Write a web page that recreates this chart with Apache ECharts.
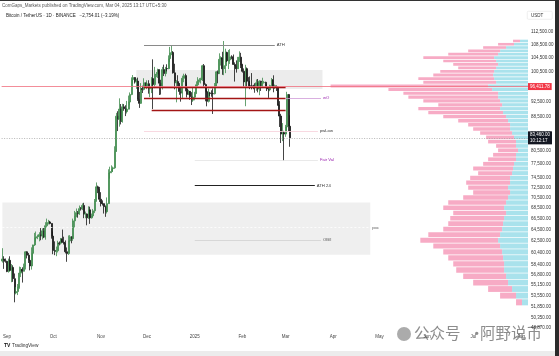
<!DOCTYPE html>
<html><head><meta charset="utf-8">
<script src="https://cdn.jsdelivr.net/npm/echarts@6/dist/echarts.min.js"></script>
<style>html,body{margin:0;padding:0;background:#fff;}#c{width:559px;height:356px;}</style>
</head><body><div id="c"></div>
<script>
// ---------- DATA ----------
const firstDay = '2024-08-29';
const lastDay = '2025-08-05';
const monthNames = {'01':'2025','02':'Feb','03':'Mar','04':'Apr','05':'May','06':'Jun','07':'Jul','08':'Aug','09':'Sep','10':'Oct','11':'Nov','12':'Dec'};
const priceTicks = [112500,108500,104500,100500,92500,88500,84500,80500,77500,74500,72500,70500,68500,66500,64500,62500,60400,58400,56800,55150,53550,51850,50350,48870];
// daily candles from 2024-08-29: [open, high, low, close]
const btcDaily = [
[59015,61190,58760,59360],[59360,59820,57730,59120],[59120,59440,58740,58970],
[58970,59070,57200,57300],[57300,59420,57130,59130],[59130,59810,57420,57480],[57480,58520,55600,57970],[57970,58320,55660,56160],
[56160,56990,52550,53950],[53950,54850,53740,54160],[54160,55320,53630,54880],[54880,58100,54590,57050],[57050,58040,56410,57650],
[57650,57990,55550,57340],[57340,58590,57320,58130],[58130,60670,57630,60570],[60570,60660,59450,60000],[60000,60380,58700,59130],
[59130,59210,57490,58210],[58210,61330,57610,60310],[60310,61790,59170,61760],[61760,63880,61570,62950],[62950,64130,62350,63200],
[63200,63560,62760,63350],[63350,64000,62380,63580],[63580,64750,62570,63340],[63340,64690,62700,64260],[64260,64820,62950,63140],
[63140,65830,62670,65180],[65180,66500,64810,65760],[65760,66260,65420,65880],[65880,66080,65440,65600],[65600,65620,62850,63300],
[63300,64130,60160,60800],[60800,62380,60000,60650],[60650,61470,59830,60750],[60750,62480,60460,62080],[62080,62370,61680,62060],
[62060,62970,61820,62820],[62820,64480,62120,62220],[62220,63200,61830,62130],[62130,62540,60300,60580],[60580,61320,58890,60270],
[60270,63420,60050,62450],[62450,63480,62430,63190],[63190,63280,62040,62850],[62850,66500,62460,66080],[66080,67950,64800,67050],
[67050,68420,66750,67620],[67620,67940,66670,67420],[67420,68990,67200,68390],[68390,68690,68020,68360],[68360,69400,68100,69000],
[69000,69520,66580,67370],[67370,67830,66570,67380],[67380,67470,65260,66650],[66650,68850,66450,68160],[68160,68770,65520,66640],
[66640,67450,66500,67010],[67010,68330,66810,67970],[67970,70270,67540,69910],[69910,73620,69730,72720],[72720,72960,71440,72340],
[72340,72700,69690,70220],
[70220,71630,68820,69480],[69480,70000,68990,69360],[69360,69400,67450,68770],[68770,69000,66830,67810],[67810,70580,67460,69360],
[69360,76400,69320,75640],[75640,76950,74420,75900],[75900,77250,75560,76540],[76540,76980,75850,76700],[76700,81500,76490,80370],
[80370,89530,80220,88700],[88700,89950,85070,87960],[87960,93270,86130,90490],[90490,91790,86670,87390],[87390,91850,87090,91070],
[91070,91780,90060,90590],[90590,91470,88730,89850],[89850,92600,89380,90470],[90470,94000,90430,92310],[92310,94830,91500,94290],
[94290,98940,94100,98320],[98320,99590,97190,98890],[98890,98990,97230,97670],[97670,98560,95790,97900],[97900,98870,92600,93010],
[93010,94970,90790,91960],[91960,97360,91800,95860],[95860,96650,94680,95640],[95640,98690,95380,97460],[97460,97500,96160,96410],
[96410,98130,95700,97190],[97190,98150,94500,95840],[95840,96300,93580,95870],[95870,99000,94660,98590],[98590,104090,90500,96940],
[96940,101900,95980,99740],[99740,100450,98990,99830],[99830,101380,98770,101110],[101110,101200,94150,97340],[97340,98270,94260,96590],
[96590,101890,95630,101130],[101130,102540,99310,100010],[100010,101900,99210,101420],[101420,102650,100610,101370],[101370,105250,101230,104300],
[104300,107790,103330,106060],[106060,108350,105320,106130],[106130,106520,100000,100200],[100200,102800,95670,97460],[97460,98150,92230,97760],
[97760,99540,96400,97220],[97220,97360,94200,95100],[95100,96420,92400,94690],[94690,99400,93400,98680],[98680,99960,97600,99430],
[99430,99960,95140,95790],[95790,97540,93500,94300],[94300,95530,94120,95130],[95130,95200,92880,93720],[93720,94900,91530,92790],
[92790,96170,92350,93580],
[93580,95000,92750,94590],[94590,97840,94400,96890],[96890,98980,96020,98110],[98110,98740,97540,98240],[98240,98830,97260,98360],
[98360,102480,97930,102240],[102240,102720,96130,96950],[96950,97260,92500,95040],[95040,95350,91200,92480],[92480,95840,92200,94700],
[94700,94980,93840,94570],[94570,95400,93700,94510],[94510,95900,89260,94500],[94500,97370,94300,96530],[96530,100680,96460,100500],
[100500,100870,97300,99990],[99990,105860,99950,104080],[104080,104990,102280,104560],[104560,106320,99650,101330],[101330,109590,99550,102260],
[102260,107240,100120,106140],[106140,106330,103300,103650],[103650,106850,101260,103930],[103930,107120,102750,104820],[104820,105290,104100,104710],
[104710,105500,102500,102600],[102600,103200,97780,102080],[102080,103780,100270,101330],[101330,104800,101330,103730],[103730,106460,103320,104730],
[104730,106010,101560,102430],
[102430,102780,100280,100640],[100640,101460,96150,97690],[97690,102500,91230,101400],[101400,101730,96150,97870],[97870,99000,96170,96620],
[96620,99200,95710,96550],[96550,100140,95650,96530],[96530,96880,95690,96480],[96480,97320,94750,96470],[96470,98350,95260,97430],
[97430,98480,94850,95780],[95780,98120,94090,97870],[97870,98000,95220,96610],[96610,98830,96250,97500],[97500,97970,97230,97570],
[97570,97730,96050,96120],[96120,97050,95200,95780],[95780,96000,93390,95540],[95540,96900,95150,96640],[96640,98770,96440,98310],
[98310,99510,94870,96140],[96140,96950,95770,96580],[96580,96670,95230,96260],[96260,96500,91350,91550],[91550,92540,86050,88740],
[88740,89290,82260,84350],[84350,87000,82700,84700],[84700,85120,78260,84350],
[84350,86560,83700,86060],[86060,95000,85050,94270],[94270,94420,85080,86220],[86220,88900,81390,83460]
];
// visible-range volume profile (bins of binSize USD starting at profileLow)
const binSize = 1000;
const profileLow = [52000,53000,54000,55000,56000,57000,58000,59000,60000,61000,62000,63000,64000,65000,66000,67000,68000,69000,70000,71000,72000,73000,74000,75000,76000,77000,78000,79000,80000,81000,82000,83000,84000,85000,86000,87000,88000,89000,90000,91000,92000,93000,94000,95000,96000,97000,98000,99000,100000,101000,102000,103000,104000,105000,106000,107000,108000,109000];
const profileUp   = [6,12,16,20,22,24,24,25,26,28,30,28,26,25,24,22,24,22,20,18,20,18,18,16,15,14,12,12,10,12,12,14,16,18,18,20,22,25,28,26,28,30,30,36,40,32,34,35,34,32,30,32,34,30,28,22,14,8];
const profileDown = [6,16,24,35,43,48,51,55,59,67,78,72,59,55,54,53,61,58,45,37,40,44,40,34,40,31,28,23,20,20,28,28,32,37,42,50,63,75,82,64,77,90,95,104,158,73,76,60,54,38,45,53,71,50,32,23,16,7];
const pocPrice = 96411.78;
const lastPrice = 83460;
const lastTime = '10:12:17';
const upperBox = {from:'2024-11-24', to:'2025-03-25', top:101000, bottom:95760};
const lowerBox = {from:'2024-08-29', to:'2025-04-25', top:69560, bottom:60070};
const levels = [
  {kind:'ath',   price:108353, from:'2024-11-29', to:'2025-02-22', text:'ATH'},
  {kind:'red',   price:96300,  from:'2024-11-29', to:'2025-03-01', text:''},
  {kind:'red',   price:93310,  from:'2024-11-29', to:'2025-03-01', text:''},
  {kind:'red',   price:90200,  from:'2024-12-04', to:'2025-03-01', text:''},
  {kind:'wo',    price:93310,  from:'2025-03-01', to:'2025-03-24', text:'wO'},
  {kind:'pink',  price:85100,  from:'2024-11-29', to:'2025-03-22', text:'pwLow'},
  {kind:'faint', price:78400,  from:'2025-01-01', to:'2025-03-22', text:'Fair Val'},
  {kind:'black', price:73000,  from:'2025-01-01', to:'2025-03-20', text:'ATH 24'},
  {kind:'dot',   price:64830,  from:'2024-08-29', to:'2025-04-25', text:'poc'},
  {kind:'gray',  price:62560,  from:'2025-01-01', to:'2025-03-24', text:'OB/I'}
];

// ---------- BUILD ----------
const days = [];
for (let t = Date.parse(firstDay+'T00:00:00Z'); t <= Date.parse(lastDay+'T00:00:00Z'); t += 86400000) days.push(new Date(t).toISOString().slice(0,10));
const candleData = btcDaily.map(r => [r[0], r[3], r[2], r[1]]);
const profileData = profileLow.map((lo,i) => [profileUp[i], profileUp[i]+profileDown[i], lo, lo+binSize]);
const fmt = v => Number(v).toLocaleString('en-US',{minimumFractionDigits:2, maximumFractionDigits:2});

const styles = {
  ath:{line:{color:'#8a8a8a',width:1,type:'solid'}, lab:'#333'},
  red:{line:{color:'#a31515',width:1.3,type:'solid'}, lab:'#333'},
  wo:{line:{color:'#cf9ad8',width:0.8,type:'solid'}, lab:'#9c27b0'},
  pink:{line:{color:'#f6cfd9',width:0.8,type:'solid'}, lab:'#333'},
  faint:{line:{color:'#e3e3e3',width:0.8,type:'solid'}, lab:'#9c27b0'},
  black:{line:{color:'#222',width:1,type:'solid'}, lab:'#333'},
  dot:{line:{color:'#ffffff',width:0.8,type:[2,2]}, lab:'#555'},
  gray:{line:{color:'#d0d0d0',width:0.8,type:'solid'}, lab:'#555'}
};
const levelLines = levels.map(l => [
  {coord:[l.from, l.price], lineStyle:styles[l.kind].line,
   label:{show:!!l.text, position:'end', distance:2, formatter:l.text, fontSize:4.2, color:styles[l.kind].lab}},
  {coord:[l.to, l.price]}
]);
levelLines.push({yAxis:pocPrice, lineStyle:{color:'#f0707f',width:0.8,type:'solid'},
  label:{show:true, position:'end', distance:0, formatter:fmt(pocPrice), fontSize:4.5, color:'#fff', backgroundColor:'#f23645', padding:[1,2]}});
levelLines.push({yAxis:lastPrice, lineStyle:{color:'#9a9a9a',width:0.7,type:[1,1.5]},
  label:{show:true, position:'end', distance:0, formatter:fmt(lastPrice)+'\n'+lastTime, fontSize:4.5, lineHeight:5.5, color:'#fff', backgroundColor:'#131722', padding:[1,2]}});

const chart = echarts.init(document.getElementById('c'), null, {renderer:'canvas'});
chart.setOption({
  animation:false,
  backgroundColor:'#fff',
  grid:{left:0, right:31, top:25, bottom:26, containLabel:false},
  xAxis:[
    {type:'category', data:days, boundaryGap:true,
     axisLine:{show:false}, axisTick:{show:false}, splitLine:{show:false},
     axisLabel:{interval:(i,v)=>v.slice(8)==='01', margin:4, fontSize:4.5, color:'#444',
       formatter:v=>monthNames[v.slice(5,7)]}},
    {type:'value', min:0, max:528, inverse:true, show:false}
  ],
  yAxis:[{type:'log', logBase:10, min:48611, max:114640, position:'right',
    axisLine:{show:false}, axisTick:{show:false}, splitLine:{show:false},
    axisLabel:{customValues:priceTicks, formatter:v=>fmt(v), fontSize:4.5, color:'#333', margin:3}}],
  series:[
    {type:'custom', xAxisIndex:1, yAxisIndex:0, z:1, silent:true,
     encode:{x:[0,1], y:[2,3]}, data:profileData,
     renderItem:function(params, api){
       const up=api.value(0), tot=api.value(1), lo=api.value(2), hi=api.value(3);
       const a=api.coord([0,hi]), b=api.coord([up,lo]), c=api.coord([tot,lo]);
       const h=Math.max(0.6,b[1]-a[1]-0.7);
       return {type:'group', children:[
         {type:'rect', shape:{x:b[0], y:a[1], width:a[0]-b[0], height:h}, style:{fill:'#a9e2ec'}},
         {type:'rect', shape:{x:c[0], y:a[1], width:b[0]-c[0], height:h}, style:{fill:'#f7abc5'}}
       ]};
     }},
    {type:'candlestick', xAxisIndex:0, yAxisIndex:0, z:3, data:candleData, barWidth:1.5,
     itemStyle:{color:'#4f9a5c', color0:'#151515', borderColor:'#3f8a4c', borderColor0:'#151515', borderWidth:0.8},
     markArea:{silent:true, z:0, data:[
       [{coord:[upperBox.from, upperBox.top], itemStyle:{color:'rgba(0,0,0,0.075)'}}, {coord:[upperBox.to, upperBox.bottom]}],
       [{coord:[lowerBox.from, lowerBox.top], itemStyle:{color:'#efefef'}}, {coord:[lowerBox.to, lowerBox.bottom]}]
     ]},
     markLine:{silent:true, symbol:['none','none'], precision:2, data:levelLines}
    }
  ],
  graphic:[
    {type:'rect', left:0, top:0, shape:{width:559,height:1}, style:{fill:'#333'}},
    {type:'rect', left:555, top:0, shape:{width:4,height:356}, style:{fill:'#2b2b2b'}},
    {type:'text', left:2, top:3, style:{text:'ComGaps_Markets published on TradingView.com, Mar 04, 2025 13:17 UTC+5:30', fontSize:4.5, fill:'#555'}},
    {type:'text', left:6, top:13, style:{text:'Bitcoin / TetherUS · 1D · BINANCE   \u22122,754.01 (\u22123.19%)', fontSize:4.5, fill:'#222'}},
    {type:'rect', left:527, top:11, shape:{width:25,height:8,r:1}, style:{fill:'#fff', stroke:'#ddd', lineWidth:0.5}},
    {type:'text', left:531, top:13, style:{text:'USDT', fontSize:4.5, fill:'#333'}},
    {type:'rect', left:0, top:351, shape:{width:555,height:5}, style:{fill:'#ececec'}},
    {type:'text', left:4, top:343, style:{text:'TV', fontSize:5, fontWeight:'bold', fill:'#111'}},
    {type:'text', left:12, top:343, style:{text:'TradingView', fontSize:4.8, fill:'#333'}},
    {type:'circle', shape:{cx:404, cy:334, r:7}, style:{fill:'rgba(150,150,150,0.8)'}},
    {type:'text', left:414, top:325, style:{text:'公众号', fontSize:15.5, fill:'rgba(120,120,120,0.85)', fontFamily:'Noto Sans CJK SC'}},
    {type:'text', left:469, top:325, style:{text:'·', fontSize:15.5, fill:'rgba(120,120,120,0.85)', fontFamily:'Noto Sans CJK SC'}},
    {type:'text', left:480, top:325, style:{text:'阿野说币', fontSize:15.5, fill:'rgba(120,120,120,0.85)', fontFamily:'Noto Sans CJK SC'}}
  ]
});
</script></body></html>
